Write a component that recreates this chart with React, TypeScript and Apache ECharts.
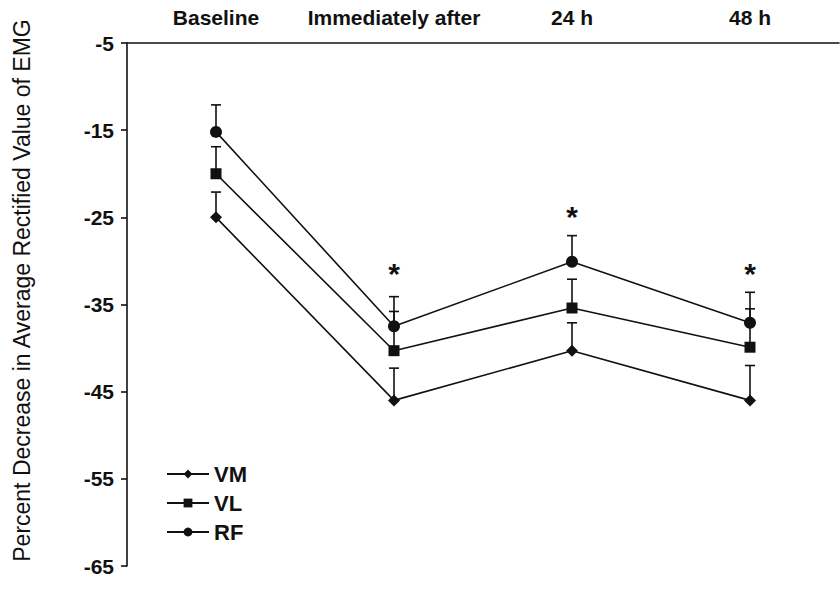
import React, { useEffect, useRef } from "react";
import * as echarts from "echarts";

const categories = ["Baseline", "Immediately after", "24 h", "48 h"];
const seriesNames = ["VM", "VL", "RF"];
const vmValues = [-25, -46, -40.3, -46];
const vlValues = [-20, -40.3, -35.4, -39.9];
const rfValues = [-15.2, -37.5, -30.1, -37.1];
const vmUpper = [-22.1, -42.3, -37.1, -42.0];
const vlUpper = [-16.9, -35.8, -32.1, -35.5];
const rfUpper = [-12.1, -34.1, -27.1, -33.6];
const starPositions = [
  [1, -31.4],
  [2, -24.9],
  [3, -31.4],
];
const yTicks = { min: -65, max: -5, interval: 10 };

const FONT = "Liberation Sans";

export default function App() {
  const ref = useRef<HTMLDivElement>(null);
  useEffect(() => {
    document.body.style.margin = "0";
    const chart = echarts.init(ref.current!, null, { renderer: "svg" });
    const values = [vmValues, vlValues, rfValues];
    const uppers = [vmUpper, vlUpper, rfUpper];
    const symbols = ["diamond", "rect", "circle"];
    const symbolSizes = [12, 11, 12];

    const errorSeries = values.map((vals, si) => ({
      type: "custom",
      name: seriesNames[si] + " err",
      z: 1,
      silent: true,
      data: vals.map((v, i) => [i, v, uppers[si][i]]),
      renderItem: (params: any, api: any) => {
        const p0 = api.coord([api.value(0), api.value(1)]);
        const p1 = api.coord([api.value(0), api.value(2)]);
        const half = 5;
        return {
          type: "group",
          children: [
            {
              type: "line",
              shape: { x1: p0[0], y1: p0[1], x2: p1[0], y2: p1[1] },
              style: { stroke: "#111", lineWidth: 1.6 },
            },
            {
              type: "line",
              shape: { x1: p1[0] - half, y1: p1[1], x2: p1[0] + half, y2: p1[1] },
              style: { stroke: "#111", lineWidth: 1.6 },
            },
          ],
        };
      },
    }));

    const lineSeries = values.map((vals, si) => ({
      type: "line",
      name: seriesNames[si],
      z: 3,
      data: vals,
      symbol: symbols[si],
      symbolSize: symbolSizes[si],
      showAllSymbol: true,
      lineStyle: { color: "#111", width: 1.6 },
      itemStyle: { color: "#111" },
    }));

    const starSeries = {
      type: "custom",
      name: "stars",
      silent: true,
      z: 4,
      data: starPositions,
      renderItem: (params: any, api: any) => {
        const p = api.coord([api.value(0), api.value(1)]);
        return {
          type: "text",
          x: p[0],
          y: p[1],
          style: {
            text: "*",
            fontSize: 30,
            fontFamily: FONT,
            fontWeight: "bold",
            fill: "#111",
            align: "center",
            verticalAlign: "middle",
          },
        };
      },
    };

    chart.setOption({
      animation: false,
      backgroundColor: "#fff",
      grid: { left: 127, top: 43, right: 1, bottom: 26 },
      legend: {
        data: seriesNames,
        orient: "vertical",
        left: 161,
        top: 458,
        itemWidth: 42,
        itemHeight: 11,
        itemGap: 7,
        textStyle: { fontSize: 22, fontWeight: "bold", fontFamily: FONT, color: "#111" },
      },
      xAxis: {
        type: "category",
        position: "top",
        data: categories,
        boundaryGap: true,
        axisLine: { lineStyle: { color: "#111", width: 1.6 } },
        axisTick: { alignWithLabel: true, inside: true, length: 6, lineStyle: { color: "#111", width: 1.6 } },
        axisLabel: { interval: 0, fontSize: 21, fontWeight: "bold", fontFamily: FONT, color: "#111", margin: 15 },
        splitLine: { show: false },
      },
      yAxis: {
        type: "value",
        min: yTicks.min,
        max: yTicks.max,
        interval: yTicks.interval,
        name: "Percent Decrease in Average Rectified Value of EMG",
        nameLocation: "middle",
        nameGap: 94,
        nameTextStyle: { fontSize: 23, fontFamily: FONT, color: "#111", padding: [0, 0, 0, 28] },
        axisLine: { show: true, lineStyle: { color: "#111", width: 1.6 } },
        axisTick: { show: true, length: 6, lineStyle: { color: "#111", width: 1.6 } },
        axisLabel: { fontSize: 21, fontWeight: "bold", fontFamily: FONT, color: "#111", margin: 13 },
        splitLine: { show: false },
      },
      series: [...errorSeries, ...lineSeries, starSeries],
    });
    return () => chart.dispose();
  }, []);
  return (
    <div
      ref={ref}
      style={{ position: "fixed", left: 0, top: 0, width: 840, height: 592 }}
    />
  );
}
